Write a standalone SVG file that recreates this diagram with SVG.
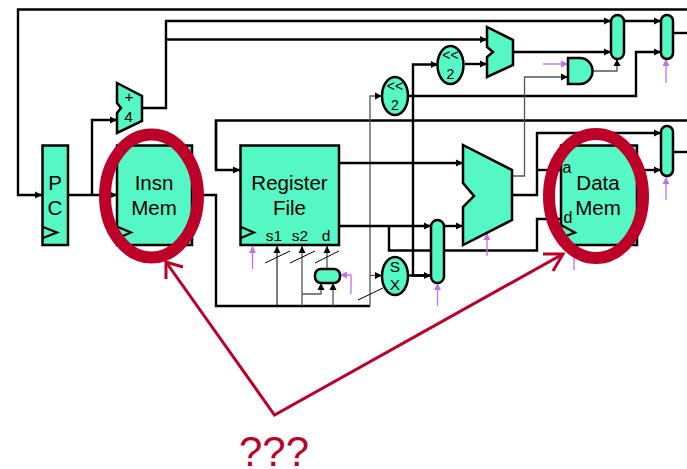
<svg xmlns="http://www.w3.org/2000/svg" width="687" height="469" viewBox="0 0 687 469">
<defs>
<marker id="a" markerUnits="userSpaceOnUse" markerWidth="8" markerHeight="8" refX="7" refY="4" orient="auto"><path d="M0,0.500L7,4L0,7.500Z" fill="#000"/></marker>
<marker id="p" markerUnits="userSpaceOnUse" markerWidth="8" markerHeight="8" refX="7" refY="4" orient="auto"><path d="M0,0.500L7,4L0,7.500Z" fill="#c070e8"/></marker>
</defs>
<style>
text{font-family:"Liberation Sans",Arial,sans-serif;fill:#000;text-anchor:middle}
.b{fill:#55f7c5;stroke:#000;stroke-width:2.5}
.w{fill:none;stroke:#000;stroke-width:2.4}
.t{fill:none;stroke:#000;stroke-width:1}
.g{fill:none;stroke:#555;stroke-width:1.3}
.v{fill:none;stroke:#c070e8;stroke-width:1.3}
.l{font-size:20.500px}
.s{font-size:15.500px}
.ck{fill:none;stroke:#000;stroke-width:2.2}
.r{fill:none;stroke:#bd0028;stroke-width:12}
.n{fill:none;stroke:#bd0028;stroke-width:3}
</style>
<g id="connectors">
<path class="w" d="M687,9.500H18V195H42" marker-end="url(#a)"/>
<path class="w" d="M68,195H117" marker-end="url(#a)"/>
<path class="w" d="M92,195V120H117" marker-end="url(#a)"/>
<path class="w" d="M142,108H166V21H611" marker-end="url(#a)"/>
<path class="w" d="M166,39.500H487" marker-end="url(#a)"/>
<path class="w" d="M513,52H611" marker-end="url(#a)"/>
<path class="w" d="M624,21H661" marker-end="url(#a)"/>
<path class="w" d="M673,33H687"/>
<path class="w" d="M465,64H487" marker-end="url(#a)"/>
<path class="w" d="M430,275.500H413V64.500H438" marker-end="url(#a)"/>
<path class="w" d="M408,96H636V52H661" marker-end="url(#a)"/>
<path class="w" d="M216,170V120.500H687"/>
<path class="w" d="M216,120.500V170H240" marker-end="url(#a)"/>
<path class="w" d="M192,195H216V306H370"/>
<path class="g" d="M370,306V96H382" marker-end="url(#a)"/>
<path class="g" d="M370,275.500H382" marker-end="url(#a)"/>
<path class="t" d="M277,306V246" marker-end="url(#a)"/>
<path class="g" d="M302,306V246" marker-end="url(#a)"/>
<path class="g" d="M327,269V246" marker-end="url(#a)"/>
<path class="g" d="M302,294H321V283" marker-end="url(#a)"/>
<path class="g" d="M333,306V283" marker-end="url(#a)"/>
<path class="t" d="M265,263L290,251M290,263L315,251M315,263L339,251M358,300L383,288"/>
<path class="w" d="M339,163H463" marker-end="url(#a)"/>
<path class="w" d="M339,226H431" marker-end="url(#a)"/>
<path class="w" d="M408,275.500H431" marker-end="url(#a)"/>
<path class="w" d="M389,226V250.500H537V219H561"/>
<path class="w" d="M444,226H463" marker-end="url(#a)"/>
<path class="w" d="M512,195H537V133H661" marker-end="url(#a)"/>
<path class="w" d="M537,170H561"/>
<path class="w" d="M637,170H661" marker-end="url(#a)"/>
<path class="w" d="M673,152H687"/>
<path class="g" d="M513,176H524.500V77H568" marker-end="url(#a)"/>
<path class="g" d="M593,71H617V59" marker-end="url(#a)"/>
<path class="v" d="M543,64H568" marker-end="url(#p)"/>
<path class="v" d="M666,83V59" marker-end="url(#p)"/>
<path class="v" d="M666,200V177" marker-end="url(#p)"/>
<path class="v" d="M252.500,269V246" marker-end="url(#p)"/>
<path class="v" d="M351,294V275H340" marker-end="url(#p)"/>
<path class="v" d="M437.500,306V283" marker-end="url(#p)"/>
<path class="v" d="M487,256V233" marker-end="url(#p)"/>
<path class="v" d="M574,270V246" marker-end="url(#p)"/>
</g>
<g id="pc"><rect class="b" x="42.500" y="145.500" width="25.500" height="99.500"/><text class="l" x="55" y="190">P</text><text class="l" x="55" y="215">C</text><path class="ck" d="M43,227L57,232.500L43,238"/></g>
<g id="adder1"><path class="b" d="M117,83L142,96V121L117,133V113L121,108L117,103Z"/><text class="s" x="129" y="102">+</text><text class="s" x="128.500" y="122">4</text></g>
<g id="insn-mem"><rect class="b" x="117" y="145.500" width="75" height="99.500"/><text class="l" x="154" y="190">Insn</text><text class="l" x="154" y="215">Mem</text><path class="ck" d="M118,227L131,232.500L118,238"/></g>
<g id="register-file"><rect class="b" x="240.500" y="145.500" width="98.500" height="99.500"/><text class="l" x="289.500" y="190">Register</text><text class="l" x="289.500" y="215">File</text><text class="s" x="274" y="241">s1</text><text class="s" x="300" y="241">s2</text><text class="s" x="326" y="241">d</text><path class="ck" d="M241,227L254,232.500L241,238"/></g>
<g id="reg-mux"><rect class="b" x="315" y="269" width="25" height="14" rx="6"/></g>
<g id="sx"><ellipse class="b" cx="395" cy="276" rx="13" ry="19"/><text class="s" x="395" y="272">S</text><text class="s" x="395" y="290">X</text></g>
<g id="shift1"><ellipse class="b" cx="395" cy="96" rx="13" ry="19"/><text font-size="14" x="395" y="91">&lt;&lt;</text><text font-size="14" x="395" y="110">2</text></g>
<g id="shift2"><ellipse class="b" cx="450.500" cy="65" rx="13" ry="19"/><text font-size="14" x="450.500" y="60">&lt;&lt;</text><text font-size="14" x="450.500" y="79">2</text></g>
<g id="adder2"><path class="b" d="M487,27L513,40V65L487,77V57L493,52L487,47Z"/></g>
<g id="and-gate"><path class="b" d="M568,58H580A12.500,13 0 0 1 580,84H568Z"/></g>
<g id="mux1"><rect class="b" x="611" y="15" width="13" height="44" rx="6.500"/></g>
<g id="mux2"><rect class="b" x="661" y="15" width="12" height="44" rx="6"/></g>
<g id="mux3"><rect class="b" x="661" y="126" width="12" height="50" rx="6"/></g>
<g id="mux4"><rect class="b" x="431" y="220" width="13" height="63" rx="6.500"/></g>
<g id="alu"><path class="b" d="M463,145L512,170V220L463,245V207L474,196L463,183Z"/></g>
<g id="data-mem"><rect class="b" x="561" y="145.500" width="76" height="99.500"/><text class="l" x="598" y="190">Data</text><text class="l" x="598" y="215">Mem</text><text font-size="16" x="567" y="173">a</text><text font-size="16" x="568" y="223">d</text><path class="ck" d="M561,225L575,232.500L561,238"/></g>
<g id="annotation">
<ellipse class="r" cx="151.500" cy="196" rx="46.500" ry="61.500"/>
<ellipse class="r" cx="596" cy="196" rx="47" ry="62"/>
<path class="n" d="M166,262L274.500,415L563,254"/>
<path class="n" d="M183,267L166,262L166,279M543,254H563L553,271"/>
<text x="274" y="466" font-size="42" style="fill:#bd0028">???</text>
</g>
</svg>
